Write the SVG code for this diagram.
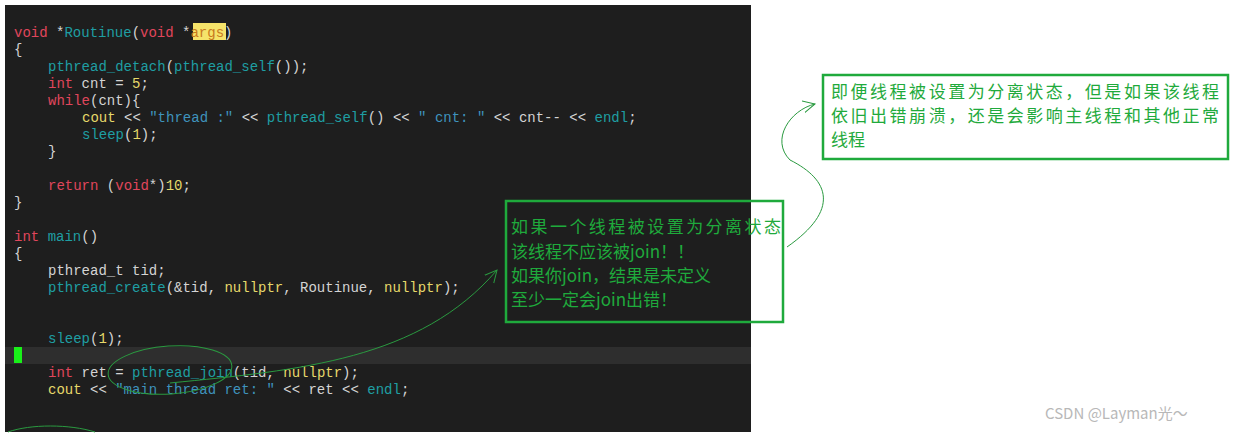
<svg xmlns="http://www.w3.org/2000/svg" width="1235" height="434" viewBox="0 0 1235 434">
<style>
.c{font-family:"Liberation Mono","Noto Sans CJK SC",monospace;font-size:14px;fill:#d4d4d4;white-space:pre}
.k{fill:#e0465c}.f{fill:#1f9ea3}.y{fill:#e6d96a}.s{fill:#3f93bd}
.a{font-family:"Noto Sans CJK SC",sans-serif;font-size:17px;fill:#1faa3c}
.box{fill:none;stroke:#1faa3c;stroke-width:2.5}
.ln{fill:none;stroke:#2a9a40;stroke-width:1}
</style>
<defs><marker id="ah" markerWidth="14" markerHeight="14" refX="12" refY="7" orient="auto" markerUnits="userSpaceOnUse"><path d="M0,1 L12,7 L0,13" fill="none" stroke="#2a9a40"/></marker></defs>
<rect width="1235" height="434" fill="#fff"/>
<g id="editor">
<rect x="5" y="5" width="746" height="427" fill="#1e1e1e"/>
<rect x="5" y="347" width="746" height="17" fill="#2e2e2e"/>
<rect x="14" y="347" width="8" height="16" fill="#19f019"/>
<rect x="193" y="23" width="33" height="17" fill="#f5e36a"/>
<text class="c" x="14" y="37"><tspan class="k">void</tspan> *<tspan class="f">Routinue</tspan>(<tspan class="k">void</tspan> *<tspan fill="#c87a1e">args</tspan>)</text>
<text class="c" x="14" y="54">{</text>
<text class="c" x="48" y="71"><tspan class="f">pthread_detach</tspan>(<tspan class="f">pthread_self</tspan>());</text>
<text class="c" x="48" y="88"><tspan class="k">int</tspan> cnt = <tspan class="y">5</tspan>;</text>
<text class="c" x="48" y="105"><tspan class="k">while</tspan>(cnt){</text>
<text class="c" x="82" y="122"><tspan class="y">cout</tspan> &lt;&lt; <tspan class="s">"thread :"</tspan> &lt;&lt; <tspan class="f">pthread_self</tspan>() &lt;&lt; <tspan class="s">" cnt: "</tspan> &lt;&lt; cnt-- &lt;&lt; <tspan class="f">endl</tspan>;</text>
<text class="c" x="82" y="139"><tspan class="f">sleep</tspan>(<tspan class="y">1</tspan>);</text>
<text class="c" x="48" y="156">}</text>
<text class="c" x="48" y="190"><tspan class="k">return</tspan> (<tspan class="k">void</tspan>*)<tspan class="y">10</tspan>;</text>
<text class="c" x="14" y="207">}</text>
<text class="c" x="14" y="241"><tspan class="k">int</tspan> <tspan class="f">main</tspan>()</text>
<text class="c" x="14" y="258">{</text>
<text class="c" x="48" y="275">pthread_t tid;</text>
<text class="c" x="48" y="292"><tspan class="f">pthread_create</tspan>(&amp;tid, <tspan class="y">nullptr</tspan>, Routinue, <tspan class="y">nullptr</tspan>);</text>
<text class="c" x="48" y="343"><tspan class="f">sleep</tspan>(<tspan class="y">1</tspan>);</text>
<text class="c" x="48" y="377"><tspan class="k">int</tspan> ret = <tspan class="f">pthread_join</tspan>(tid, <tspan class="y">nullptr</tspan>);</text>
<text class="c" x="48" y="394"><tspan class="y">cout</tspan> &lt;&lt; <tspan class="s">"main thread ret: "</tspan> &lt;&lt; ret &lt;&lt; <tspan class="f">endl</tspan>;</text>
</g>
<g id="note1">
<rect class="box" x="506" y="201" width="277" height="121" fill="#1e1e1e"/>
<text class="a" x="511" y="233" textLength="270">如果一个线程被设置为分离状态</text>
<text class="a" x="511" y="258">该线程不应该被join！！</text>
<text class="a" x="511" y="282">如果你join，结果是未定义</text>
<text class="a" x="511" y="306">至少一定会join出错！</text>
</g>
<g id="note2">
<rect class="box" x="823" y="75" width="405" height="84" fill="#fff"/>
<text class="a" x="831" y="98" textLength="388">即便线程被设置为分离状态，但是如果该线程</text>
<text class="a" x="831" y="122" textLength="388">依旧出错崩溃，还是会影响主线程和其他正常</text>
<text class="a" x="831" y="146">线程</text>
</g>
<g id="connectors">
<ellipse class="ln" cx="170" cy="370" rx="62" ry="24" transform="rotate(-4 170 370)"/>
<path class="ln" d="M170,383 C300,370 420,360 497,270" marker-end="url(#ah)"/>
<path class="ln" d="M787,247 C840,210 830,180 790,160 C770,140 790,110 815,104" marker-end="url(#ah)"/>
<path class="ln" d="M8,432 C30,424 70,424 95,432"/>
</g>
<text x="1045" y="419" font-family="Noto Sans CJK SC,sans-serif" font-size="15" fill="#b8b8b8">CSDN @Layman光～</text>
</svg>
